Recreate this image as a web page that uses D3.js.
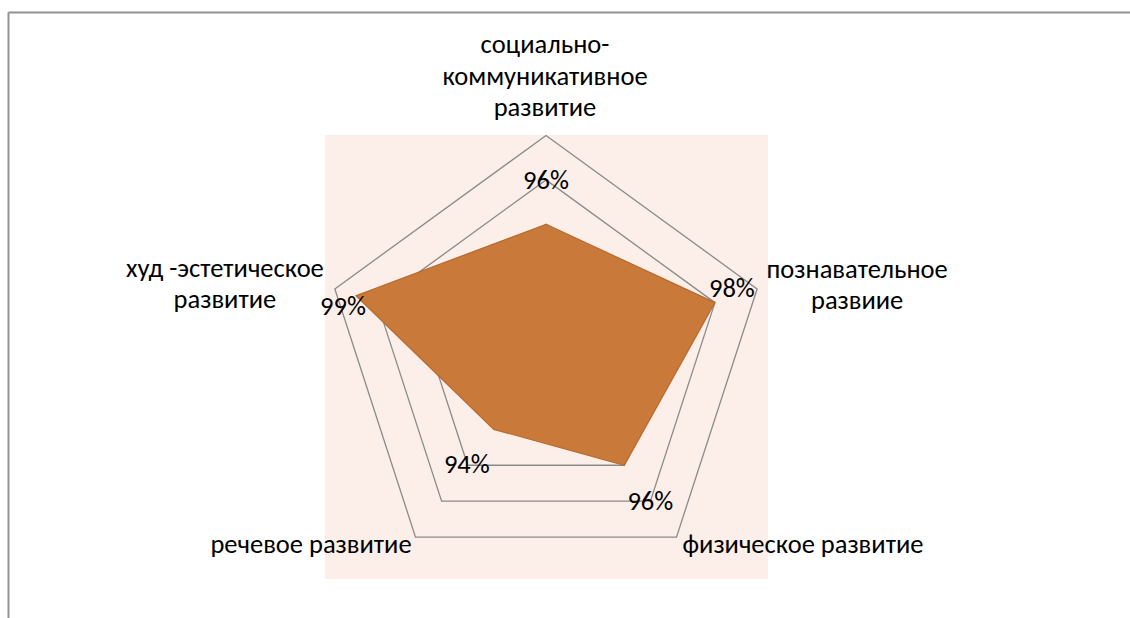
<!DOCTYPE html>
<html>
<head>
<meta charset="utf-8">
<script src="https://cdn.jsdelivr.net/npm/d3@7"></script>
<style>
  html, body { margin: 0; padding: 0; background: #ffffff; }
  svg { display: block; }
  text { font-family: Carlito, Lato, "Open Sans", "Noto Sans", sans-serif; fill: #000; }
</style>
</head>
<body>
<svg id="chart" width="1130" height="618"></svg>
<script>
// ---- data ----
const categories = [
  "социально-коммуникативное развитие",
  "познавательное развиие",
  "физическое развитие",
  "речевое развитие",
  "худ -эстетическое развитие"
];
const categoryLines = [
  ["социально-", "коммуникативное", "развитие"],
  ["познавательное", "развиие"],
  ["физическое развитие"],
  ["речевое развитие"],
  ["худ -эстетическое", "развитие"]
];
const values = [0.96, 0.98, 0.96, 0.94, 0.99];
const ringTicks = [0.96, 0.98, 1.00];
const axisMin = 0.90, axisMax = 1.00;

// ---- layout ----
const W = 1130, H = 618;
const cx = 546, cy = 357.5, R = 222;
const svg = d3.select("#chart");

// chart frame (top & left edges visible)
svg.append("line").attr("x1", 8.5).attr("y1", 12.5).attr("x2", W).attr("y2", 12.5)
  .attr("stroke", "#929292").attr("stroke-width", 2);
svg.append("line").attr("x1", 8.5).attr("y1", 12.5).attr("x2", 8.5).attr("y2", H)
  .attr("stroke", "#929292").attr("stroke-width", 2);

// plot area background
svg.append("rect").attr("x", 325).attr("y", 135).attr("width", 443).attr("height", 444)
  .attr("fill", "#FCEEE9");

const r = d3.scaleLinear().domain([axisMin, axisMax]).range([0, R]);
const n = categories.length;
const angle = d3.scaleLinear().domain([0, n]).range([0, 2 * Math.PI]);

const g = svg.append("g").attr("transform", `translate(${cx},${cy})`);

const radial = d3.lineRadial()
  .angle((d, i) => angle(i))
  .radius(d => r(d))
  .curve(d3.curveLinearClosed);

// rings
g.selectAll("path.ring").data(ringTicks).enter().append("path")
  .attr("class", "ring")
  .attr("d", t => radial(d3.range(n).map(() => t)))
  .attr("fill", "none")
  .attr("stroke", "#8a8a8a")
  .attr("stroke-width", 1.3);

// series polygon
g.append("path")
  .attr("d", radial(values))
  .attr("fill", "#C97A3A")
  .attr("stroke", "#B9682C")
  .attr("stroke-width", 1.2);

// point helper
const pt = (v, i) => {
  const a = angle(i);
  return [r(v) * Math.sin(a), -r(v) * Math.cos(a)];
};

// data labels
const fmt = d3.format(".0%");
const dataLabelOffset = [[0, -35], [17, -6], [26, 45], [-27, 44], [-13, 19]];
g.selectAll("text.val").data(values).enter().append("text")
  .attr("class", "val")
  .attr("text-anchor", "middle")
  .attr("font-size", 26)
  .attr("x", (d, i) => pt(d, i)[0] + dataLabelOffset[i][0])
  .attr("y", (d, i) => pt(d, i)[1] + dataLabelOffset[i][1])
  .text(d => fmt(d));

// category labels
const catOffset = [[-1, -82.5], [100, -11], [126.5, 16], [-104.5, 16], [-110, -12]];
const lineStep = 31.5;
categoryLines.forEach((lines, i) => {
  const [vx, vy] = pt(axisMax, i);
  const t = g.append("text").attr("class", "cat")
    .attr("text-anchor", "middle")
    .attr("font-size", 26);
  lines.forEach((ln, j) => {
    t.append("tspan")
      .attr("x", vx + catOffset[i][0])
      .attr("y", vy + catOffset[i][1] + j * lineStep)
      .text(ln);
  });
});

// fit font size to reference width of "физическое развитие" (~241px)
const probe = g.selectAll("text.cat").filter((d, i) => i === 2).node();
const w = probe.getComputedTextLength();
const fs = 26 * 241 / w;
g.selectAll("text.cat").attr("font-size", fs);
g.selectAll("text.val").attr("font-size", fs);
</script>
</body>
</html>
